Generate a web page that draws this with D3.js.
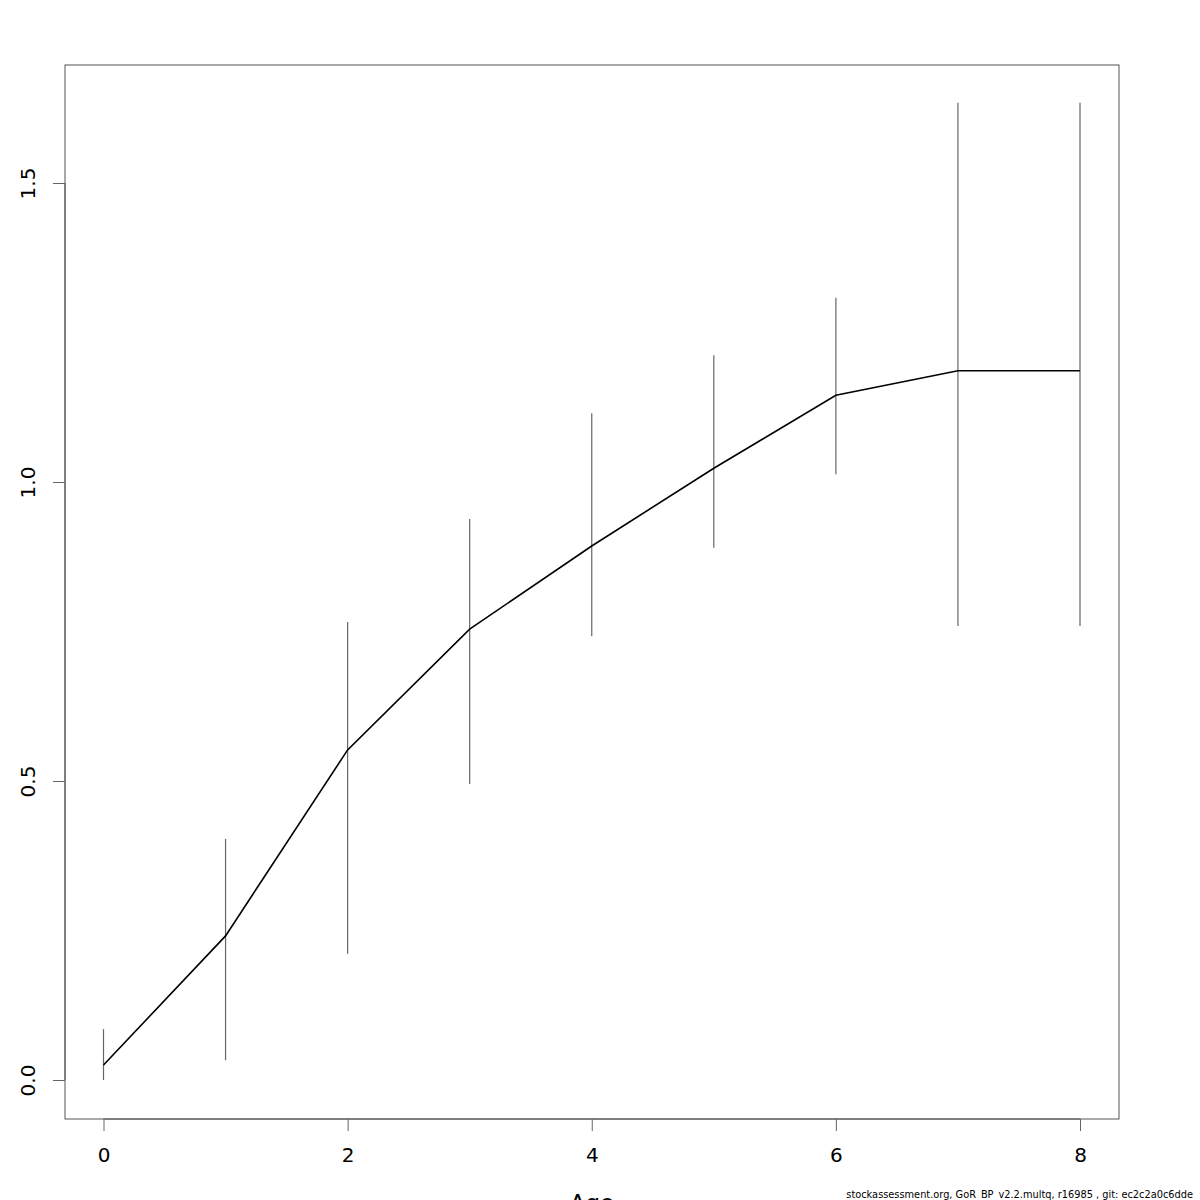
<!DOCTYPE html>
<html><head><meta charset="utf-8">
<script src="https://cdn.jsdelivr.net/npm/d3@7"></script>
<style>body{margin:0;background:#fff}svg{display:block;font-family:"DejaVu Sans",sans-serif}</style>
</head><body>
<script>
const ages = [0,1,2,3,4,5,6,7,8];
const estimate = [0.025,0.241,0.552,0.754,0.893,1.023,1.145,1.186,1.186];
const lower = [0.0,0.033,0.211,0.495,0.742,0.890,1.013,0.759,0.759];
const upper = [0.085,0.403,0.766,0.938,1.115,1.212,1.308,1.634,1.634];
const xTicks = [0,2,4,6,8];
const yTicks = [0.0,0.5,1.0,1.5];
const yTickLabels = ["0.0","0.5","1.0","1.5"];
const xLabel = "Age";
const footer = "stockassessment.org, GoR_BP_v2.2.multq, r16985 , git: ec2c2a0c6dde";

const W=1200,H=1200;
const svg=d3.select("body").append("svg").attr("width",W).attr("height",H);
const L=65,R=1119,T=65,B=1119;
const x=d3.scaleLinear().domain([0,8]).range([103.5,1080]);
const y=d3.scaleLinear().domain([0,1.5]).range([1080,183]);

// box
svg.append("rect").attr("x",L).attr("y",T).attr("width",R-L).attr("height",B-T)
  .attr("fill","none").attr("stroke","#555").attr("stroke-width",1);

// error bars
svg.append("g").selectAll("line").data(ages).join("line")
  .attr("x1",d=>x(d)).attr("x2",d=>x(d))
  .attr("y1",(d,i)=>y(lower[i])).attr("y2",(d,i)=>y(upper[i]))
  .attr("stroke","#666").attr("stroke-width",1.2);

// line
svg.append("path").datum(ages)
  .attr("d",d3.line().x(d=>x(d)).y((d,i)=>y(estimate[i])))
  .attr("fill","none").attr("stroke","#000").attr("stroke-width",1.6);

// x axis
const xa=svg.append("g").attr("transform",`translate(0,${B})`)
  .call(d3.axisBottom(x).tickValues(xTicks).tickSize(12).tickPadding(17).tickFormat(d3.format("d")));
xa.select(".domain").attr("stroke","#555").attr("d",`M${x(0)},0H${x(8)}`);
xa.selectAll(".tick line").attr("stroke","#666");
xa.selectAll("text").attr("font-size",20).attr("fill","#000").attr("font-family","DejaVu Sans");

// y axis
const ya=svg.append("g").attr("transform",`translate(${L},0)`)
  .call(d3.axisLeft(y).tickValues(yTicks).tickSize(12).tickFormat((d,i)=>yTickLabels[i]));
ya.select(".domain").attr("stroke","#555").attr("d",`M0,${y(0)}V${y(1.5)}`);
ya.selectAll(".tick line").attr("stroke","#666");
ya.selectAll("text").attr("font-size",20).attr("fill","#000").attr("font-family","DejaVu Sans")
  .attr("x",null).attr("dy",null).attr("text-anchor","middle")
  .attr("transform","translate(-36,0) rotate(-90)").attr("dominant-baseline","middle");

// x label
svg.append("text").attr("x",(L+R)/2).attr("y",1211).attr("text-anchor","middle")
  .attr("font-size",23).text(xLabel);

// footer
svg.append("text").attr("x",1193).attr("y",1198).attr("text-anchor","end")
  .attr("font-size",9.8).text(footer);
</script>
</body></html>
